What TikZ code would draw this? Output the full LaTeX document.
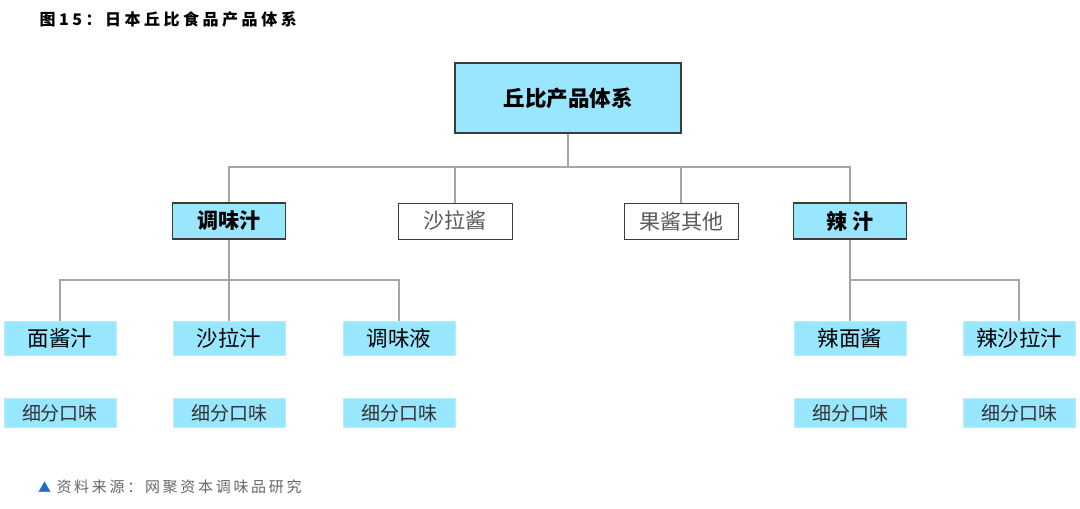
\documentclass[tikz,border=0pt]{standalone}
\usepackage{fontspec}
\setmainfont{Noto Sans CJK SC}
\usetikzlibrary{positioning}
\definecolor{boxcyan}{RGB}{153,230,255}
\definecolor{linegray}{RGB}{165,165,165}
\definecolor{edgegray}{RGB}{60,60,60}
\definecolor{srcblue}{RGB}{30,110,200}
\tikzset{
  topbox/.style={draw=edgegray,line width=1.3pt,fill=boxcyan,minimum width=226pt,minimum height=70pt,font=\fontsize{21.5}{23}\selectfont\bfseries},
  catbox/.style={draw=edgegray,line width=1.3pt,fill=boxcyan,minimum width=113pt,minimum height=36pt,font=\fontsize{21}{23}\selectfont\bfseries},
  plainbox/.style={draw=edgegray,line width=1pt,fill=white,text=black!65,minimum width=114pt,minimum height=36pt,font=\fontsize{21}{23}\selectfont},
  itembox/.style={draw=boxcyan!70!white,fill=boxcyan,minimum width=112pt,minimum height=34pt,font=\fontsize{21.5}{23}\selectfont},
  subbox/.style={draw=boxcyan!70!white,fill=boxcyan,minimum width=112pt,minimum height=29pt,text=black!80,font=\fontsize{19}{21}\selectfont},
  link/.style={draw=linegray,line width=1.4pt}
}
\begin{document}
\begin{tikzpicture}[x=1pt,y=-1pt]
  \useasboundingbox (0,0) rectangle (1080,509);
  % title and source
  \node[anchor=west,font=\fontsize{16}{18}\selectfont\bfseries\addfontfeature{LetterSpace=22}] (title) at (36,19) {图15：日本丘比食品产品体系};
  \node[anchor=west,text=srcblue,font=\fontsize{13}{15}\selectfont,inner sep=0pt] (tri) at (38,487) {▲};
  \node[anchor=west,text=black!60,font=\fontsize{15}{17}\selectfont\addfontfeature{LetterSpace=18}] (src) at (53,487) {资料来源：网聚资本调味品研究};
  \draw
    (568,98) node[topbox] (root){丘比产品体系}
    (229,221) node[catbox] (tw){调味汁}
    (455,221) node[plainbox] (slj){沙拉酱}
    (681,221) node[plainbox] (gj){果酱其他}
    (850,221) node[catbox] (lz){辣 汁}
    (60,338) node[itembox] (mjz){面酱汁}
    (229,338) node[itembox] (slz){沙拉汁}
    (399,338) node[itembox] (twy){调味液}
    (850,338) node[itembox] (lmj){辣面酱}
    (1019,338) node[itembox] (lslz){辣沙拉汁}
    (60,413) node[subbox] (x1){细分口味}
    (229,413) node[subbox] (x2){细分口味}
    (399,413) node[subbox] (x3){细分口味}
    (850,413) node[subbox] (x4){细分口味}
    (1019,413) node[subbox] (x5){细分口味};
  \coordinate (bus1) at (568,167);
  \coordinate (bus2) at (229,280);
  \coordinate (bus3) at (850,280);
  \begin{scope}[link]
    \draw (root) -- (bus1);
    \draw (tw.north) |- (bus1);
    \draw (slj.north) |- (bus1);
    \draw (gj.north) |- (bus1);
    \draw (lz.north) |- (bus1);
    \draw (tw) -- (slz);
    \draw (mjz.north) |- (bus2);
    \draw (twy.north) |- (bus2);
    \draw (lz) -- (lmj);
    \draw (lslz.north) |- (bus3);
  \end{scope}
\end{tikzpicture}
\end{document}
